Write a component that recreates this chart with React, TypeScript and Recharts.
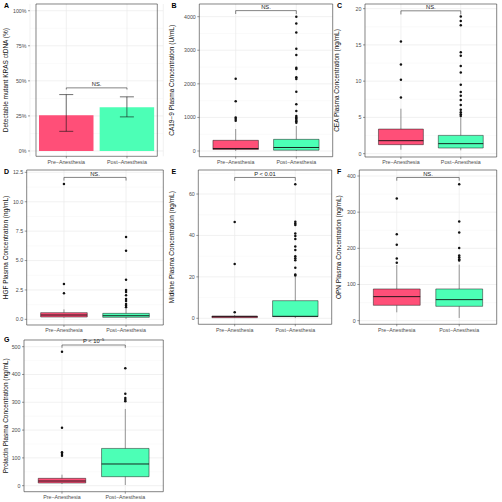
import {
    Bar,
    BarChart,
    CartesianGrid,
    Cell,
    ComposedChart,
    ErrorBar,
    ReferenceArea,
    ReferenceLine,
    Scatter,
    XAxis,
    YAxis
} from "recharts";

const FONT = '"Liberation Sans", Arial, sans-serif';
const groups = ["Pre−Anesthesia", "Post−Anesthesia"];
const FILLS = ["#FF4F78", "#4CFFB6"];

// --- A: ctDNA detection rate (%) ---
const ctdnaRate = [25.5, 31.2];
const ctdnaLow = [14.0, 24.3];
const ctdnaHigh = [40.2, 38.6];
const pctTicks = [0, 25, 50, 75, 100];

// boxes: [lower whisker, q1, median, q3, upper whisker] for pre / post
// --- B: CA19-9 ---
const ca199Box = [[2, 45, 75, 318, 655], [1, 25, 105, 347, 745]];
const ca199Out = [
    [2154, 1485, 995, 950, 900],
    [4000, 3800, 3525, 3045, 2860, 2480, 2445, 2195, 2145, 1765, 1390, 1190, 1040, 1000, 965, 925, 885, 845]
];
const ca199Ticks = [0, 1000, 2000, 3000, 4000];

// --- C: CEA ---
const ceaBox = [[0.55, 1.24, 1.79, 3.39, 6.2], [0.46, 0.78, 1.38, 2.52, 5.0]];
const ceaOut = [
    [15.46, 12.3, 10.2, 7.75],
    [18.9, 18.3, 17.7, 14.0, 13.5, 12.1, 11.2, 9.5, 8.5, 8.0, 7.4, 6.7, 6.05, 5.7, 5.45, 5.2]
];
const ceaTicks = [0, 5, 10, 15, 20];

// --- D: HGF ---
const hgfBox = [[0.14, 0.2, 0.37, 0.57, 0.85], [0.05, 0.17, 0.31, 0.51, 0.88]];
const hgfOut = [
    [11.5, 3.0, 2.21],
    [7.0, 5.84, 3.37, 2.49, 2.32, 2.04, 1.73, 1.56, 1.3, 1.16, 1.02]
];
const hgfTicks = [0, 2.5, 5, 7.5, 10, 12.5];

// --- E: Midkine ---
const midkineBox = [[0.1, 0.3, 0.8, 1.1, 1.6], [0.1, 0.8, 0.96, 8.5, 20.1]];
const midkineOut = [
    [46.5, 26.2, 2.9],
    [64.7, 46.6, 45.8, 45.0, 41.0, 39.7, 38.3, 34.7, 33.0, 29.9, 29.0, 28.0, 24.4, 21.2, 20.6]
];
const midkineTicks = [0, 20, 40, 60];

// --- F: OPN ---
const opnBox = [[23, 42.4, 66.4, 87.6, 154], [7.4, 39.6, 58.1, 87.6, 155]];
const opnOut = [
    [338, 239, 210, 172, 160],
    [377, 274, 244, 201, 180, 175, 170, 166]
];
const opnTicks = [0, 100, 200, 300, 400];

// --- G: Prolactin ---
const prolactinBox = [[6, 9.6, 16.8, 26.4, 39.6], [2.4, 32.4, 78, 134, 276]];
const prolactinOut = [
    [482, 208.6, 120, 114, 108],
    [422, 331, 315, 309, 304]
];
const prolactinTicks = [0, 100, 200, 300, 400, 500];

const tickStyle = { fontSize: 5.3, fill: "#4D4D4D" };
const tickLineStyle = { stroke: "#333", strokeWidth: 0.5 };

// chart frame from the plot rectangle (page px)
function frame(col: number, plot: number[]) {
    const [x0, x1, y0, y1] = plot;
    const top = y0 - 2;
    return {
        left: col,
        top,
        width: x1 - col + 3,
        height: y1 - top + 11,
        margin: { top: 2, right: 3, left: 0, bottom: 0 },
        yWidth: x0 - col,
        xHeight: 11,
    };
}

function minorOf(ticks: number[], domain: number[]) {
    const step = ticks[1] - ticks[0];
    const out: number[] = [];
    for (let v = ticks[0] - step / 2; v <= domain[1]; v += step) {
        if (v >= domain[0]) out.push(v);
    }
    return out;
}

const sigLabel = (text: string, sup?: string) => (props: any) => {
    const vb = props.viewBox || {};
    return (
        <text x={vb.x + vb.width / 2} y={vb.y - 1.6} textAnchor="middle" fontSize={5.8} fill="#222">
            {text}
            {sup && <tspan dy={-2.2} fontSize={4}>{sup}</tspan>}
        </text>
    );
};

function Bracket({ a, b, line, tip, text, sup }: any) {
    return (
        <>
            <ReferenceLine segment={[{ x: a, y: line }, { x: b, y: line }]} stroke="#333" strokeWidth={0.6}
                label={{ position: "top", content: sigLabel(text, sup) }} />
            <ReferenceLine segment={[{ x: a, y: line }, { x: a, y: tip }]} stroke="#333" strokeWidth={0.6} />
            <ReferenceLine segment={[{ x: b, y: line }, { x: b, y: tip }]} stroke="#333" strokeWidth={0.6} />
        </>
    );
}

function yTitle(title: string, offset: number) {
    return {
        value: title,
        angle: -90,
        position: "insideLeft",
        offset,
        style: { textAnchor: "middle", fontSize: 6.5, fill: "#111" },
    };
}

function CtdnaPanel() {
    const f = frame(0, [30, 163.3, 4, 156.3]);
    const domain = [-3.8, 104.8];
    const rows = groups.map((g, i) => ({
        group: g,
        rate: ctdnaRate[i],
        err: [ctdnaRate[i] - ctdnaLow[i], ctdnaHigh[i] - ctdnaRate[i]],
    }));
    return (
        <div style={{ position: "absolute", left: f.left, top: f.top }}>
            <BarChart width={f.width} height={f.height} margin={f.margin} data={rows}>
                <CartesianGrid vertical={false} horizontalValues={minorOf(pctTicks, domain)} stroke="#F2F2F2" strokeWidth={0.4} />
                <CartesianGrid horizontalValues={pctTicks} stroke="#EBEBEB" strokeWidth={0.7} />
                <XAxis dataKey="group" padding={{ left: 6, right: 6 }} height={f.xHeight} axisLine={false}
                    tickLine={tickLineStyle} tickSize={2} tickMargin={1.5} tick={tickStyle} interval={0} />
                <YAxis type="number" domain={domain} ticks={pctTicks} allowDataOverflow width={f.yWidth}
                    axisLine={false} tickLine={tickLineStyle} tickSize={2} tickMargin={1.5} tick={tickStyle}
                    tickFormatter={(v) => `${v}%`}
                    label={yTitle("Detectable mutant KRAS ctDNA (%)", 6)} />
                <Bar dataKey="rate" barSize={54.5} isAnimationActive={false}>
                    {rows.map((r, i) => (
                        <Cell key={`cell-${i}`} fill={FILLS[i]} />
                    ))}
                    <ErrorBar dataKey="err" width={7} stroke="#111" strokeWidth={0.6} />
                </Bar>
                <Bracket a={groups[0]} b={groups[1]} line={45} tip={43.8} text="NS." />
                <ReferenceArea y1={domain[0]} y2={domain[1]} fill="none" stroke="#333" strokeWidth={0.6} ifOverflow="visible" />
            </BarChart>
        </div>
    );
}

function BoxPanel({ p }: any) {
    const f = frame(p.col, p.plot);
    const outliers = p.out.flatMap((arr: number[], i: number) => arr.map((y) => ({ x: i + 1, y })));
    return (
        <div style={{ position: "absolute", left: f.left, top: f.top }}>
            <ComposedChart width={f.width} height={f.height} margin={f.margin}>
                <CartesianGrid vertical={false} horizontalValues={minorOf(p.ticks, p.domain)} stroke="#F2F2F2" strokeWidth={0.4} />
                <CartesianGrid horizontalValues={p.ticks} verticalValues={[1, 2]} stroke="#EBEBEB" strokeWidth={0.7} />
                <XAxis type="number" dataKey="x" domain={[0.4, 2.6]} ticks={[1, 2]} allowDataOverflow
                    height={f.xHeight} axisLine={false} tickLine={tickLineStyle} tickSize={2} tickMargin={1.5}
                    tick={tickStyle} interval={0} tickFormatter={(v) => groups[Math.round(v) - 1]} />
                <YAxis type="number" domain={p.domain} ticks={p.ticks} allowDataOverflow width={f.yWidth}
                    axisLine={false} tickLine={tickLineStyle} tickSize={2} tickMargin={1.5} tick={tickStyle}
                    tickFormatter={p.fmt} label={yTitle(p.title, p.titleX - p.col)} />
                {p.box.map((b: number[], i: number) => (
                    <ReferenceLine key={`wl-${i}`} segment={[{ x: i + 1, y: b[0] }, { x: i + 1, y: b[1] }]} stroke="#333" strokeWidth={0.5} />
                ))}
                {p.box.map((b: number[], i: number) => (
                    <ReferenceLine key={`wh-${i}`} segment={[{ x: i + 1, y: b[3] }, { x: i + 1, y: b[4] }]} stroke="#333" strokeWidth={0.5} />
                ))}
                {p.box.map((b: number[], i: number) => (
                    <ReferenceArea key={`bx-${i}`} x1={i + 0.625} x2={i + 1.375} y1={b[1]} y2={b[3]}
                        fill={FILLS[i]} fillOpacity={1} stroke="#1A1A1A" strokeWidth={0.5} />
                ))}
                {p.box.map((b: number[], i: number) => (
                    <ReferenceLine key={`md-${i}`} segment={[{ x: i + 0.625, y: b[2] }, { x: i + 1.375, y: b[2] }]} stroke="#111" strokeWidth={0.9} />
                ))}
                <Scatter data={outliers} dataKey="y" isAnimationActive={false}
                    shape={(s: any) => <circle cx={s.cx} cy={s.cy} r={1.25} fill="#111" />} />
                <Bracket a={1} b={2} line={p.bracket[0]} tip={p.bracket[1]} text={p.sig} sup={p.sup} />
                <ReferenceArea y1={p.domain[0]} y2={p.domain[1]} fill="none" stroke="#333" strokeWidth={0.6} ifOverflow="visible" />
            </ComposedChart>
        </div>
    );
}

const plain = (v: number) => String(v);
const oneDec = (v: number) => v.toFixed(1);

const boxPanels = [
    { tag: "B", title: "CA19−9 Plasma Concentration (U/mL)", box: ca199Box, out: ca199Out, ticks: ca199Ticks, fmt: plain,
        domain: [-169, 4377], bracket: [4180, 4080], sig: "NS.", col: 166, titleX: 172, plot: [199.3, 332.7, 4, 156.7] },
    { tag: "C", title: "CEA Plasma Concentration (ng/mL)", box: ceaBox, out: ceaOut, ticks: ceaTicks, fmt: plain,
        domain: [-0.46, 20.64], bracket: [19.7, 19.2], sig: "NS.", col: 332, titleX: 337, plot: [365, 496.7, 4, 157] },
    { tag: "D", title: "HGF Plasma Concentration (ng/mL)", box: hgfBox, out: hgfOut, ticks: hgfTicks, fmt: oneDec,
        domain: [-0.48, 12.7], bracket: [12.07, 11.8], sig: "NS.", col: 0, titleX: 6, plot: [26.7, 163.3, 170, 325] },
    { tag: "E", title: "Midkine Plasma Concentration (ng/mL)", box: midkineBox, out: midkineOut, ticks: midkineTicks, fmt: plain,
        domain: [-2.9, 71.6], bracket: [68.0, 66.4], sig: "P < 0.01", col: 166, titleX: 172, plot: [198.3, 331.7, 170, 324.3] },
    { tag: "F", title: "OPN Plasma Concentration (ng/mL)", box: opnBox, out: opnOut, ticks: opnTicks, fmt: plain,
        domain: [-10.1, 416.6], bracket: [396, 387], sig: "NS.", col: 332, titleX: 339, plot: [359.3, 496.7, 170, 324.3] },
    { tag: "G", title: "Prolactin Plasma Concentration (ng/mL)", box: prolactinBox, out: prolactinOut, ticks: prolactinTicks, fmt: plain,
        domain: [-21.6, 524], bracket: [506, 496], sig: "P < 10", sup: "−5", col: 0, titleX: 6, plot: [24, 163.3, 340, 491.7] },
];

const panelTags = [
    { tag: "A", x: 4, y: 1.5 },
    { tag: "B", x: 171.5, y: 1.5 },
    { tag: "C", x: 337, y: 1.5 },
    { tag: "D", x: 4, y: 167.5 },
    { tag: "E", x: 171.5, y: 167.5 },
    { tag: "F", x: 337, y: 167.5 },
    { tag: "G", x: 4, y: 336 },
];

export default function App() {
    return (
        <div style={{ position: "absolute", left: 0, top: 0, width: 502, height: 502, background: "#fff", fontFamily: FONT, overflow: "hidden" }}>
            <CtdnaPanel />
            {boxPanels.map((p) => (
                <BoxPanel key={p.tag} p={p} />
            ))}
            {panelTags.map((t) => (
                <div key={t.tag} style={{ position: "absolute", left: t.x, top: t.y, fontSize: 7, fontWeight: "bold", lineHeight: "8px", color: "#000" }}>
                    {t.tag}
                </div>
            ))}
        </div>
    );
}
